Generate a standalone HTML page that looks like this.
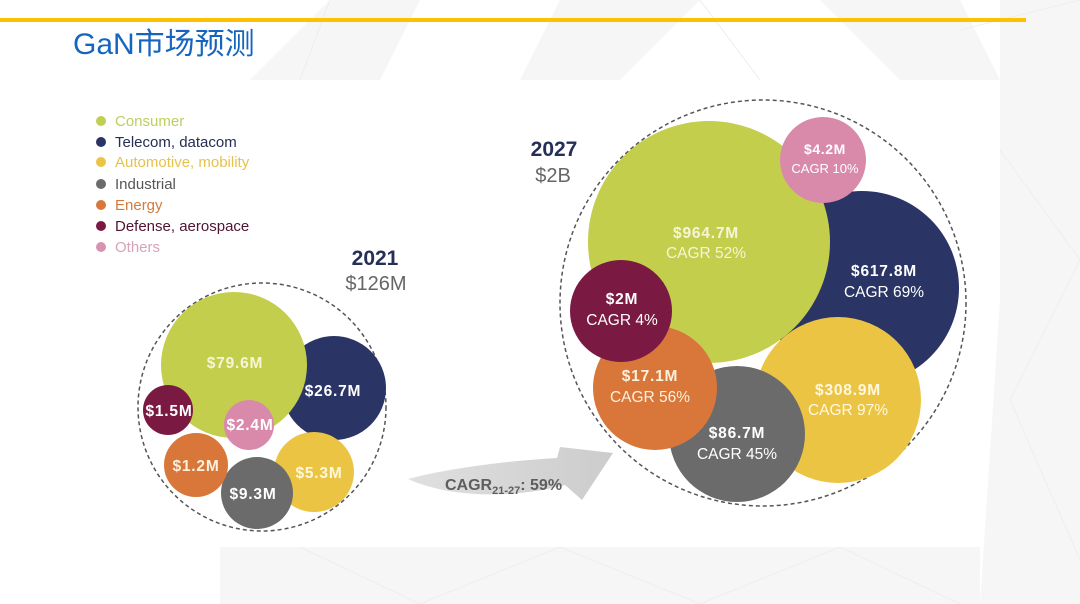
<!DOCTYPE html>
<html>
<head>
<meta charset="utf-8">
<style>
html,body{margin:0;padding:0;background:#fff;}
body{width:1080px;height:604px;overflow:hidden;}
svg{display:block;}
text{font-family:"Liberation Sans","Noto Sans CJK SC",sans-serif;}
</style>
</head>
<body>
<svg width="1080" height="604" viewBox="0 0 1080 604" xmlns="http://www.w3.org/2000/svg">
  <defs>
    <linearGradient id="arr" x1="0" y1="0" x2="1" y2="0">
      <stop offset="0" stop-color="#e0e0e0"/>
      <stop offset="1" stop-color="#cccccc"/>
    </linearGradient>
  </defs>
  <rect x="0" y="0" width="1080" height="604" fill="#ffffff"/>

  <!-- faint background pattern -->
  <g fill="#f6f6f6">
    <polygon points="250,80 330,0 420,0 380,80"/>
    <polygon points="560,0 700,0 620,80 520,80"/>
    <polygon points="820,0 960,0 1000,80 900,80"/>
    <polygon points="1000,0 1080,0 1080,604 980,604 1000,300"/>
    <polygon points="220,547 980,547 980,604 220,604"/>
  </g>
  <g stroke="#eeeeee" stroke-width="1" fill="none">
    <polyline points="330,0 300,80"/>
    <polyline points="700,0 760,80"/>
    <polyline points="960,30 1080,0"/>
    <polyline points="1000,150 1080,260 1010,400 1080,560"/>
    <polyline points="300,547 420,604 560,547 700,604 840,547 960,604"/>
  </g>
  <rect x="100" y="81" width="878" height="466" fill="#ffffff"/>

  <!-- top yellow line -->
  <rect x="0" y="18" width="1026" height="4" fill="#ffc000"/>

  <!-- title -->
  <text x="73" y="54" font-size="30" fill="#1565c0">GaN市场预测</text>

  <!-- legend -->
  <g font-size="15">
    <circle cx="101" cy="121" r="5" fill="#c0cf52"/>
    <text x="115" y="126" fill="#bfce5c">Consumer</text>
    <circle cx="101" cy="142" r="5" fill="#2b3565"/>
    <text x="115" y="147" fill="#262e52">Telecom, datacom</text>
    <circle cx="101" cy="162" r="5" fill="#ecc444"/>
    <text x="115" y="167" fill="#e6c24c">Automotive, mobility</text>
    <circle cx="101" cy="184" r="5" fill="#6b6b6b"/>
    <text x="115" y="189" fill="#555555">Industrial</text>
    <circle cx="101" cy="205" r="5" fill="#d9763a"/>
    <text x="115" y="210" fill="#d3793c">Energy</text>
    <circle cx="101" cy="226" r="5" fill="#7a1a42"/>
    <text x="115" y="231" fill="#4f1530">Defense, aerospace</text>
    <circle cx="101" cy="247" r="5" fill="#d993b0"/>
    <text x="115" y="252" fill="#d8a2ba">Others</text>
  </g>

  <!-- 2021 header -->
  <text x="375" y="265" font-size="21" font-weight="bold" fill="#252f58" text-anchor="middle">2021</text>
  <text x="376" y="290" font-size="20" fill="#666666" text-anchor="middle">$126M</text>

  <!-- 2021 bubbles -->
  <circle cx="262" cy="407" r="124" fill="none" stroke="#555" stroke-width="1.5" stroke-dasharray="4 3"/>
  <circle cx="334" cy="388" r="52" fill="#2b3565"/>
  <circle cx="234" cy="365" r="73" fill="#c3ce4d"/>
  <circle cx="168" cy="410" r="25" fill="#7a1a42"/>
  <circle cx="249" cy="425" r="25" fill="#d98aab"/>
  <circle cx="314" cy="472" r="40" fill="#ecc444"/>
  <circle cx="257" cy="493" r="36" fill="#6b6b6b"/>
  <circle cx="196" cy="465" r="32" fill="#d9763a"/>

  <g font-size="15.5" font-weight="bold" text-anchor="middle" letter-spacing="0.8">
    <text x="235" y="368" fill="#f7f4d8">$79.6M</text>
    <text x="333" y="396" fill="#ffffff">$26.7M</text>
    <text x="169" y="416" fill="#ffffff">$1.5M</text>
    <text x="250" y="430" fill="#ffffff">$2.4M</text>
    <text x="196" y="471" fill="#fbf1dd">$1.2M</text>
    <text x="253" y="499" fill="#ffffff">$9.3M</text>
    <text x="319" y="478" fill="#fff8e0">$5.3M</text>
  </g>

  <!-- arrow -->
  <path d="M408,479 C450,468 505,461 557,458 L560,447 L613,453 L582,500 L565,485 C520,497 455,500 408,479 Z" fill="url(#arr)"/>
  <text x="445" y="490" font-size="16" font-weight="bold" fill="#5e5e5e">CAGR<tspan font-size="11" dy="4">21-27</tspan><tspan dy="-4">: 59%</tspan></text>

  <!-- 2027 header -->
  <text x="554" y="156" font-size="21" font-weight="bold" fill="#252f58" text-anchor="middle">2027</text>
  <text x="553" y="182" font-size="20" fill="#666666" text-anchor="middle">$2B</text>

  <!-- 2027 bubbles -->
  <circle cx="763" cy="303" r="203" fill="none" stroke="#555" stroke-width="1.5" stroke-dasharray="4 3"/>
  <circle cx="862" cy="288" r="97" fill="#2b3565"/>
  <circle cx="709" cy="242" r="121" fill="#c3ce4d"/>
  <circle cx="823" cy="160" r="43" fill="#d98aab"/>
  <circle cx="838" cy="400" r="83" fill="#ecc444"/>
  <circle cx="737" cy="434" r="68" fill="#6b6b6b"/>
  <circle cx="655" cy="388" r="62" fill="#d9763a"/>
  <circle cx="621" cy="311" r="51" fill="#7a1a42"/>

  <g text-anchor="middle">
    <text x="706" y="238" font-size="15.5" font-weight="bold" letter-spacing="0.8" fill="#f7f4d8">$964.7M</text>
    <text x="706" y="258" font-size="15.5" fill="#f7f4d8">CAGR 52%</text>

    <text x="825" y="154" font-size="14" font-weight="bold" letter-spacing="0.6" fill="#ffffff">$4.2M</text>
    <text x="825" y="173" font-size="13" fill="#ffffff">CAGR 10%</text>

    <text x="884" y="276" font-size="15.5" font-weight="bold" letter-spacing="0.8" fill="#ffffff">$617.8M</text>
    <text x="884" y="297" font-size="15.5" fill="#ffffff">CAGR 69%</text>

    <text x="622" y="304" font-size="15.5" font-weight="bold" letter-spacing="0.8" fill="#ffffff">$2M</text>
    <text x="622" y="325" font-size="15.5" fill="#ffffff">CAGR 4%</text>

    <text x="650" y="381" font-size="15.5" font-weight="bold" letter-spacing="0.8" fill="#fbf1dd">$17.1M</text>
    <text x="650" y="402" font-size="15.5" fill="#fbf1dd">CAGR 56%</text>

    <text x="737" y="438" font-size="15.5" font-weight="bold" letter-spacing="0.8" fill="#ffffff">$86.7M</text>
    <text x="737" y="459" font-size="15.5" fill="#ffffff">CAGR 45%</text>

    <text x="848" y="395" font-size="15.5" font-weight="bold" letter-spacing="0.8" fill="#fff8e0">$308.9M</text>
    <text x="848" y="415" font-size="15.5" fill="#fff8e0">CAGR 97%</text>
  </g>
</svg>
</body>
</html>
